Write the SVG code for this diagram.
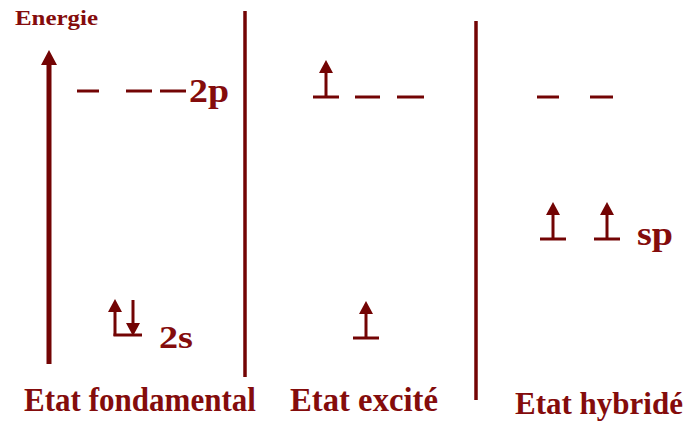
<svg xmlns="http://www.w3.org/2000/svg" width="687" height="423" viewBox="0 0 687 423">
<style>
.ln{stroke:#730404;stroke-linecap:butt;fill:none}
.hd{fill:#730404}
.t{font-family:"Liberation Serif","Times New Roman",serif;font-weight:bold;fill:#840c0c}
</style>
<defs>
<g id="orbUp">
<polygon class="hd" points="0,0 -7,13 7,13"/>
<line class="ln" x1="0" y1="11" x2="0" y2="37" stroke-width="3"/>
<line class="ln" x1="-13" y1="37" x2="13" y2="37" stroke-width="3"/>
</g>
</defs>
<rect width="687" height="423" fill="#ffffff"/>
<g id="axis">
<text class="t" x="15" y="25" font-size="20" textLength="83" lengthAdjust="spacingAndGlyphs">Energie</text>
<polygon class="hd" points="49,50 41,65 57,65"/>
<line class="ln" x1="49" y1="62" x2="49" y2="364" stroke-width="5"/>
</g>
<g id="dividers">
<line class="ln" x1="245" y1="11" x2="245" y2="377" stroke-width="3.5"/>
<line class="ln" x1="476" y1="21" x2="476" y2="400" stroke-width="3.5"/>
</g>
<g id="fondamental">
<g class="ln" stroke-width="3">
<line x1="77" y1="91" x2="99" y2="91"/>
<line x1="126" y1="91" x2="152" y2="91"/>
<line x1="160" y1="91" x2="186" y2="91"/>
</g>
<text class="t" x="189" y="102" font-size="34" textLength="40" lengthAdjust="spacingAndGlyphs">2p</text>
<polygon class="hd" points="115,299 108,312 122,312"/>
<line class="ln" x1="115" y1="310" x2="115" y2="336" stroke-width="3"/>
<line class="ln" x1="133" y1="300" x2="133" y2="325" stroke-width="3"/>
<polygon class="hd" points="133,336 126,323 140,323"/>
<line class="ln" x1="113.5" y1="335" x2="142" y2="335" stroke-width="3"/>
<text class="t" x="159" y="348" font-size="31" textLength="34" lengthAdjust="spacingAndGlyphs">2s</text>
<text class="t" x="24" y="411" font-size="33" textLength="232" lengthAdjust="spacingAndGlyphs">Etat fondamental</text>
</g>
<g id="excite">
<use href="#orbUp" x="326" y="60"/>
<g class="ln" stroke-width="3">
<line x1="355" y1="97" x2="380" y2="97"/>
<line x1="397" y1="97" x2="424" y2="97"/>
</g>
<use href="#orbUp" x="366" y="301"/>
<text class="t" x="290" y="411" font-size="33" textLength="148" lengthAdjust="spacingAndGlyphs">Etat excité</text>
</g>
<g id="hybride">
<g class="ln" stroke-width="3">
<line x1="537" y1="97" x2="559" y2="97"/>
<line x1="590" y1="97" x2="613" y2="97"/>
</g>
<use href="#orbUp" x="553" y="202"/>
<use href="#orbUp" x="607" y="202"/>
<text class="t" x="637" y="245" font-size="34" textLength="36" lengthAdjust="spacingAndGlyphs">sp</text>
<text class="t" x="515" y="414" font-size="32" textLength="168" lengthAdjust="spacingAndGlyphs">Etat hybridé</text>
</g>
</svg>
